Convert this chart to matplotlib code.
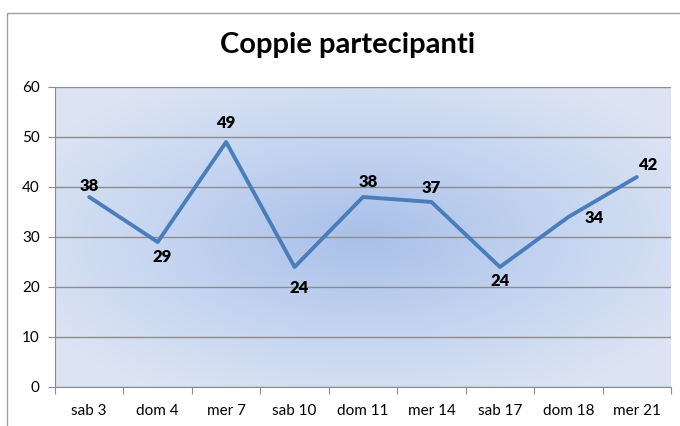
import numpy as np
import matplotlib.pyplot as plt
from matplotlib.colors import LinearSegmentedColormap

categories = ['sab 3', 'dom 4', 'mer 7', 'sab 10', 'dom 11', 'mer 14', 'sab 17', 'dom 18', 'mer 21']
values = [38, 29, 49, 24, 38, 37, 24, 34, 42]
# label offsets in points (dx, dy)
label_offsets = [(0, 8), (3, -11), (0, 14), (3, -15), (4, 11), (0, 10), (0, -10), (19, -1), (8, 9)]

plt.rcParams['font.family'] = ['Lato', 'DejaVu Sans']

fig = plt.figure(figsize=(6.8, 4.26), dpi=100)
fig.patch.set_facecolor('white')

# outer chart frame
frame = plt.Rectangle((7 / 680, -0.1), 1.2, 1 - 13 / 426 + 0.1, transform=fig.transFigure,
                      fill=False, edgecolor='#a0a0a0', linewidth=1.0)
fig.add_artist(frame)

ax = fig.add_axes([55 / 680, 1 - 387 / 426, 616 / 680, 300 / 426])

# radial gradient background
gx, gy = np.meshgrid(np.linspace(-1, 1, 300), np.linspace(-1, 1, 200))
r = np.clip(np.sqrt(gx ** 2 + gy ** 2) / 1.2, 0, 1)
cmap = LinearSegmentedColormap.from_list('bg', ['#a9c0e9', '#c3d3f0', '#dce4f3'])
ax.imshow(r, cmap=cmap, extent=[0, 1, 0, 1], transform=ax.transAxes,
          aspect='auto', zorder=0, vmin=0, vmax=1)

x = np.arange(len(categories))
ax.set_xlim(-0.5, len(categories) - 0.5)
ax.set_ylim(0, 60)
ax.set_yticks(range(0, 61, 10))
ax.grid(axis='y', color='#8c8c8c', linewidth=1.0, zorder=1)
ax.set_axisbelow(False)

ax.plot(x, values, color='#4a7ebb', linewidth=2.8, zorder=3, solid_capstyle='round')

for xi, v, (dx, dy) in zip(x, values, label_offsets):
    ax.annotate(str(v), (xi, v), xytext=(dx, dy), textcoords='offset points',
                ha='center', va='center', fontsize=12, fontweight='heavy', color='black', zorder=4)

ax.set_xticks(np.arange(-0.5, len(categories), 1), minor=False)
ax.set_xticklabels([])
ax.set_xticks(x, minor=True)
ax.set_xticklabels(categories, minor=True, fontsize=11)
ax.tick_params(axis='x', which='minor', length=0, pad=12)
ax.tick_params(axis='x', which='major', length=5, color='#8c8c8c')
ax.tick_params(axis='y', length=5, color='#8c8c8c', labelsize=11, pad=6)

for side in ['top', 'right']:
    ax.spines[side].set_visible(False)
for side in ['left', 'bottom']:
    ax.spines[side].set_color('#8c8c8c')

fig.text(348 / 680, 1 - 45 / 426, 'Coppie partecipanti', ha='center', va='center',
         fontsize=21, fontweight='bold')

fig.savefig('out.png', dpi=100)
